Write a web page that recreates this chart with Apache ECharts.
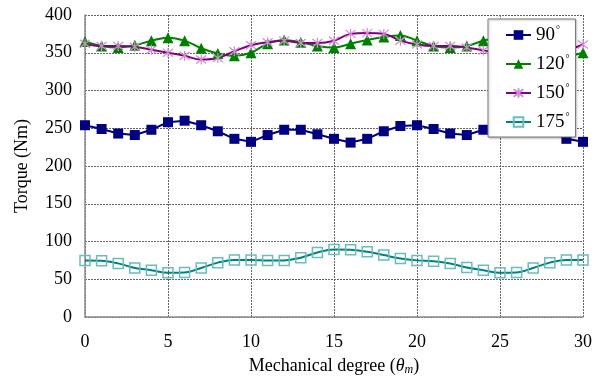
<!DOCTYPE html>
<html>
<head>
<meta charset="utf-8">
<script src="https://cdn.jsdelivr.net/npm/echarts@6/dist/echarts.min.js"></script>
<style>
  html, body { margin: 0; padding: 0; background: #fff; }
  #chart { width: 601px; height: 385px; }
</style>
</head>
<body>
<div id="chart"></div>
<script>
// Mechanical degree samples (x axis)
const degrees = [0, 1, 2, 3, 4, 5, 6, 7, 8, 9, 10, 11, 12, 13, 14, 15,
                 16, 17, 18, 19, 20, 21, 22, 23, 24, 25, 26, 27, 28, 29, 30];

// Torque (Nm) for each current angle
const torque90  = [254, 249, 243, 241, 248, 258, 260, 254, 246, 236, 232, 241, 248, 248, 242, 236,
                   231, 236, 246, 253, 254, 249, 243, 241, 248, 258, 260, 254, 246, 236, 232];
const torque120 = [365, 359, 357, 360, 366, 370, 366, 356, 349, 346, 350, 362, 367, 364, 359, 357,
                   362, 367, 371, 373, 366, 359, 357, 359, 366, 370, 366, 356, 349, 346, 350];
const torque150 = [362, 359, 359, 358, 354, 350, 346, 341, 343, 352, 360, 364, 366, 363, 363, 366,
                   375, 376, 375, 366, 361, 359, 359, 357, 353, 350, 346, 341, 343, 352, 361];
const torque175 = [75, 74.5, 71, 65, 62, 58.5, 59, 65, 72, 75.5, 75.5, 75, 75, 78.5, 85.5, 89.5,
                   89, 86.5, 82, 77.5, 75, 74, 71, 65.5, 62, 58.5, 59, 65, 72, 75.5, 75.5];

const seriesNames = ['90', '120', '150', '175'];

const pairs = ys => degrees.map((d, i) => [d, ys[i]]);

const FONT = '"Liberation Serif", "Times New Roman", serif';
const asterisk = 'path://M5,0 L5,10 M1,1 L9,9 M1,9 L9,1';
const openSquare = 'path://M0,0 L10,0 L10,10 L0,10 Z';

const chart = echarts.init(document.getElementById('chart'), null, { renderer: 'canvas' });

chart.setOption({
  animation: false,
  backgroundColor: '#fff',
  grid: { left: 85, right: 18, top: 15, bottom: 68 },
  xAxis: {
    type: 'value', min: 0, max: 30, interval: 5,
    name: 'Mechanical degree ({i|θ}{sub|m})',
    nameLocation: 'middle', nameGap: 39,
    nameTextStyle: {
      fontFamily: FONT, fontSize: 18, color: '#000',
      rich: {
        i: { fontFamily: FONT, fontSize: 18, fontStyle: 'italic', color: '#000' },
        sub: { fontFamily: FONT, fontSize: 12, fontStyle: 'italic', color: '#000', padding: [8, 0, 0, 0] }
      }
    },
    axisLine: { show: true, lineStyle: { color: '#8c8c8c', width: 1.5 } },
    axisTick: { show: false },
    axisLabel: { fontFamily: FONT, fontSize: 18, color: '#000', margin: 16 },
    splitLine: { show: true, lineStyle: { color: '#666', width: 1, type: [2, 1] } }
  },
  yAxis: {
    type: 'value', min: 0, max: 400, interval: 50,
    name: 'Torque (Nm)',
    nameLocation: 'middle', nameGap: 54,
    nameTextStyle: { fontFamily: FONT, fontSize: 18, color: '#000' },
    axisLine: { show: true, lineStyle: { color: '#8c8c8c', width: 1.5 } },
    axisTick: { show: false },
    axisLabel: { fontFamily: FONT, fontSize: 18, color: '#000', margin: 13 },
    splitLine: { show: true, lineStyle: { color: '#666', width: 1, type: [2, 1] } }
  },
  legend: {
    orient: 'vertical',
    left: 488, top: 19,
    width: 88,
    padding: [6, 6, 5, 17],
    itemGap: 9,
    itemWidth: 25, itemHeight: 12,
    backgroundColor: '#fff',
    borderColor: '#7a7a7a', borderWidth: 1,
    shadowColor: 'rgba(0,0,0,0.25)', shadowBlur: 2, shadowOffsetX: 1, shadowOffsetY: 1,
    data: seriesNames,
    formatter: n => n + '{d|°}',
    textStyle: {
      fontFamily: FONT, fontSize: 19, color: '#000', lineHeight: 20,
      rich: { d: { fontFamily: FONT, fontSize: 10, color: '#000', padding: [0, 0, 10, 1] } }
    }
  },
  series: [
    {
      name: seriesNames[0], type: 'line', data: pairs(torque90),
      symbol: 'rect', symbolSize: 10,
      lineStyle: { color: '#000080', width: 2 },
      itemStyle: { color: '#000080' }
    },
    {
      name: seriesNames[1], type: 'line', data: pairs(torque120), smooth: 0.4,
      symbol: 'triangle', symbolSize: 11,
      lineStyle: { color: '#008000', width: 2 },
      itemStyle: { color: '#008000' }
    },
    {
      name: seriesNames[2], type: 'line', data: pairs(torque150), smooth: 0.4,
      symbol: asterisk, symbolSize: 10,
      lineStyle: { color: '#800080', width: 2 },
      itemStyle: { color: 'transparent', borderColor: '#d28ad2', borderWidth: 1.2 }
    },
    {
      name: seriesNames[3], type: 'line', data: pairs(torque175), smooth: 0.4,
      symbol: openSquare, symbolSize: 10,
      lineStyle: { color: '#008080', width: 2 },
      itemStyle: { color: 'transparent', borderColor: '#6bbcbc', borderWidth: 1.5 }
    }
  ]
});
</script>
</body>
</html>
